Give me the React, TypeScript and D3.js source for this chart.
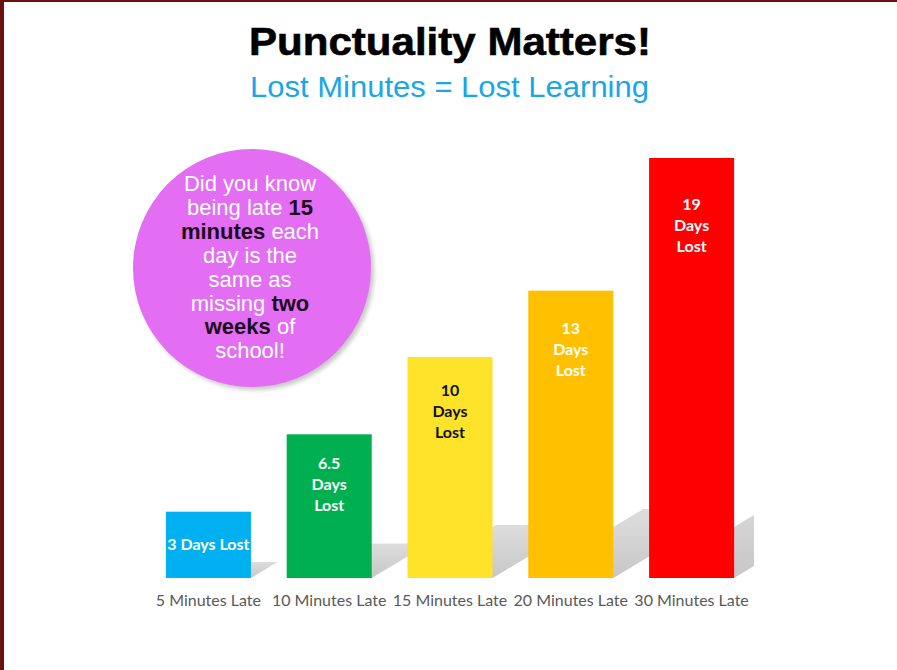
import * as d3 from "d3"

const categories = ["5 Minutes Late", "10 Minutes Late", "15 Minutes Late", "20 Minutes Late", "30 Minutes Late"]
const daysLost = [3, 6.5, 10, 13, 19]
const barLabels = [["3 Days Lost"], ["6.5", "Days", "Lost"], ["10", "Days", "Lost"], ["13", "Days", "Lost"], ["19", "Days", "Lost"]]
const barColors = ["#00b0f0", "#00b050", "#ffe32a", "#ffc000", "#ff0000"]
const labelColors = ["#ffffff", "#ffffff", "#111111", "#ffffff", "#ffffff"]

// circle callout, [text, highlighted]
const calloutLines: [string, boolean][][] = [
  [["Did you know", false]],
  [["being late ", false], ["15", true]],
  [["minutes", true], [" each", false]],
  [["day is the", false]],
  [["same as", false]],
  [["missing ", false], ["two", true]],
  [["weeks", true], [" of", false]],
  [["school!", false]],
]

const W = 897
const H = 670

export default function App() {
  const xScale = d3
    .scaleBand()
    .domain(categories)
    .range([148, 752])
    .paddingInner(0.296)
    .paddingOuter(0.148)

  const yScale = d3.scaleLinear().domain([0, 19]).range([578, 158])
  const base = yScale(0)

  return (
    <svg width={W} height={H} style={{ position: "absolute", left: 0, top: 0 }}>
      <defs>
        <linearGradient id="shadowGrad" x1="0" y1="1" x2="0" y2="0">
          <stop offset="0%" stopColor="#c4c4c4" stopOpacity={0.95} />
          <stop offset="100%" stopColor="#d4d4d4" stopOpacity={0.8} />
        </linearGradient>
        <clipPath id="plotClip">
          <rect x={0} y={0} width={xScale.range()[1] + 2} height={base + 1} />
        </clipPath>
        <filter id="blur" x="-10%" y="-10%" width="120%" height="120%">
          <feGaussianBlur stdDeviation={2} />
        </filter>
      </defs>
      <rect x={0} y={0} width={W} height={H} fill="#ffffff" />
      <rect x={0} y={0} width={W} height={2} fill="#6a1010" />
      <rect x={0} y={0} width={4} height={H} fill="#6a1010" />

      <text
        x={450}
        y={55}
        textAnchor="middle"
        fontFamily="Liberation Sans, Arial, sans-serif"
        fontWeight="bold"
        fontSize={39}
        fill="#000"
        stroke="#000"
        strokeWidth={0.6}
        textLength={402}
        lengthAdjust="spacingAndGlyphs"
      >
        Punctuality Matters!
      </text>
      <text
        x={449.5}
        y={97}
        textAnchor="middle"
        fontFamily="Liberation Sans, Arial, sans-serif"
        fontSize={30}
        fill="#1aa7e6"
        textLength={399}
        lengthAdjust="spacingAndGlyphs"
      >
        Lost Minutes = Lost Learning
      </text>

      {/* shadows */}
      <g clipPath="url(#plotClip)">
        {daysLost.map((d, i) => {
          const x0 = xScale(categories[i]) ?? 0
          const x1 = x0 + xScale.bandwidth()
          const h = base - yScale(d)
          const dx = h * 0.4
          const dy = h * 0.24
          const pts = [
            [x0, base],
            [x1, base],
            [x1 + dx, base - dy],
            [x0 + dx, base - dy],
          ]
          return <polygon key={i} points={pts.map((p) => p.join(",")).join(" ")} fill="url(#shadowGrad)" />
        })}
      </g>

      {daysLost.map((d, i) => (
        <rect
          key={i}
          x={xScale(categories[i])}
          y={yScale(d)}
          width={xScale.bandwidth()}
          height={base - yScale(d)}
          fill={barColors[i]}
        />
      ))}

      {daysLost.map((d, i) => {
        const cx = (xScale(categories[i]) ?? 0) + xScale.bandwidth() / 2
        const top = yScale(d)
        const h = base - top
        const lines = barLabels[i]
        const lineH = 21
        const y0 = lines.length === 1 ? top + h / 2 + 5 : top + 25 + h * 0.065
        return (
          <text
            key={i}
            textAnchor="middle"
            fontFamily="Lato, Liberation Sans, sans-serif"
            fontWeight="bold"
            fontSize={16}
            fill={labelColors[i]}
          >
            {lines.map((l, j) => (
              <tspan key={j} x={cx} y={y0 + j * lineH}>
                {l}
              </tspan>
            ))}
          </text>
        )
      })}

      {categories.map((c, i) => (
        <text
          key={i}
          x={(xScale(c) ?? 0) + xScale.bandwidth() / 2}
          y={606}
          textAnchor="middle"
          fontFamily="Lato, Liberation Sans, sans-serif"
          fontSize={16}
          fill="#595959"
        >
          {c}
        </text>
      ))}

      {/* callout */}
      <circle cx={255} cy={271} r={119} fill="#9a9a9a" opacity={0.55} filter="url(#blur)" />
      <circle cx={252} cy={268} r={119} fill="#e36df3" />
      {calloutLines.map((segs, i) => (
        <text
          key={i}
          x={250}
          y={191 + i * 23.9}
          textAnchor="middle"
          fontFamily="Liberation Sans, Arial, sans-serif"
          fontSize={22}
        >
          {segs.map(([t, hi], j) => (
            <tspan key={j} fill={hi ? "#1a0a1a" : "#ffffff"} fontWeight={hi ? "bold" : "normal"}>
              {t}
            </tspan>
          ))}
        </text>
      ))}
    </svg>
  )
}
